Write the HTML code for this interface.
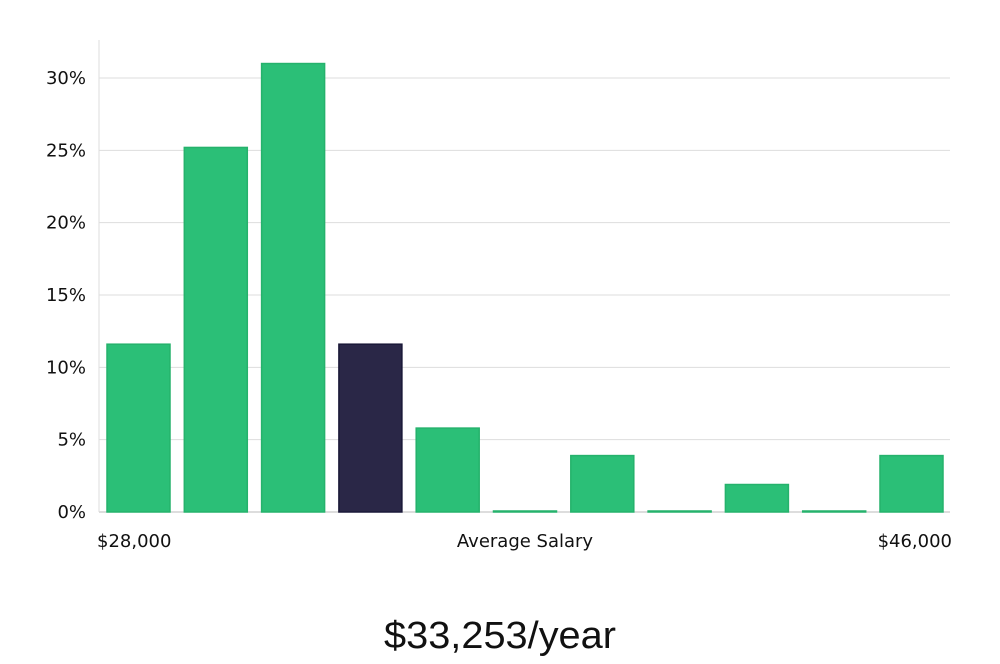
<!DOCTYPE html>
<html><head><meta charset="utf-8"><style>
body{margin:0;background:#fff;width:1000px;height:660px;overflow:hidden;font-family:"DejaVu Sans","Liberation Sans",sans-serif;}
</style></head><body>
<svg id="chart" width="1000" height="660" xmlns="http://www.w3.org/2000/svg"></svg>
<script>
const values=[11.6,25.2,31.0,11.6,5.8,0,3.9,0,1.9,0,3.9];
const highlight=[false,false,false,true,false,false,false,false,false,false,false];
const yTicks=[0,5,10,15,20,25,30];
const yTickLabels=["0%","5%","10%","15%","20%","25%","30%"];
const xLabels=["$28,000","Average Salary","$46,000"];
const title="$33,253/year";
const NS="http://www.w3.org/2000/svg";
const svg=document.getElementById('chart');
const x0=99,x1=950,y0=512,yTop=40;
const yScale=v=>y0-v*(434/30);
const step=77.3,bw=63,bx0=107;
const xScale=i=>bx0+i*step;
function mk(t,a){const e=document.createElementNS(NS,t);for(const k in a)e.setAttribute(k,a[k]);svg.appendChild(e);return e;}
yTicks.forEach((t,i)=>{
 const g=mk('line',{x1:x0,x2:x1,y1:yScale(t),y2:yScale(t),stroke:t===0?'#bbb':'#ddd','stroke-width':1});
 
 
 const tx=mk('text',{x:86,y:yScale(t)+6,'text-anchor':'end','font-size':18,fill:'#111'});
 tx.textContent=yTickLabels[i];
 
 
});
const ax=mk('line',{x1:x0,x2:x0,y1:yTop,y2:y0,stroke:'#ddd','stroke-width':1});


values.forEach((v,i)=>{
 const h=Math.max(yScale(0)-yScale(v),1);
 const r=mk('rect',{x:xScale(i),y:y0-h,width:bw,height:h,fill:highlight[i]?'#2a2747':'#2bbf77',stroke:highlight[i]?'#1a1838':'#25b26c','stroke-width':1.5});
 
 
});
const lx=[{x:97,a:'start'},{x:525,a:'middle'},{x:952,a:'end'}];
xLabels.forEach((l,i)=>{
 const t=mk('text',{x:lx[i].x,y:547,'text-anchor':lx[i].a,'font-size':18,fill:'#111'});
 t.textContent=l;
 
 
});
const tt=mk('text',{x:500,y:648,'text-anchor':'middle','font-size':38,fill:'#111','font-family':'"Liberation Sans Narrow","Liberation Sans",sans-serif','font-weight':'300',textLength:232,lengthAdjust:'spacingAndGlyphs'});
tt.textContent=title;


</script>
</body></html>
